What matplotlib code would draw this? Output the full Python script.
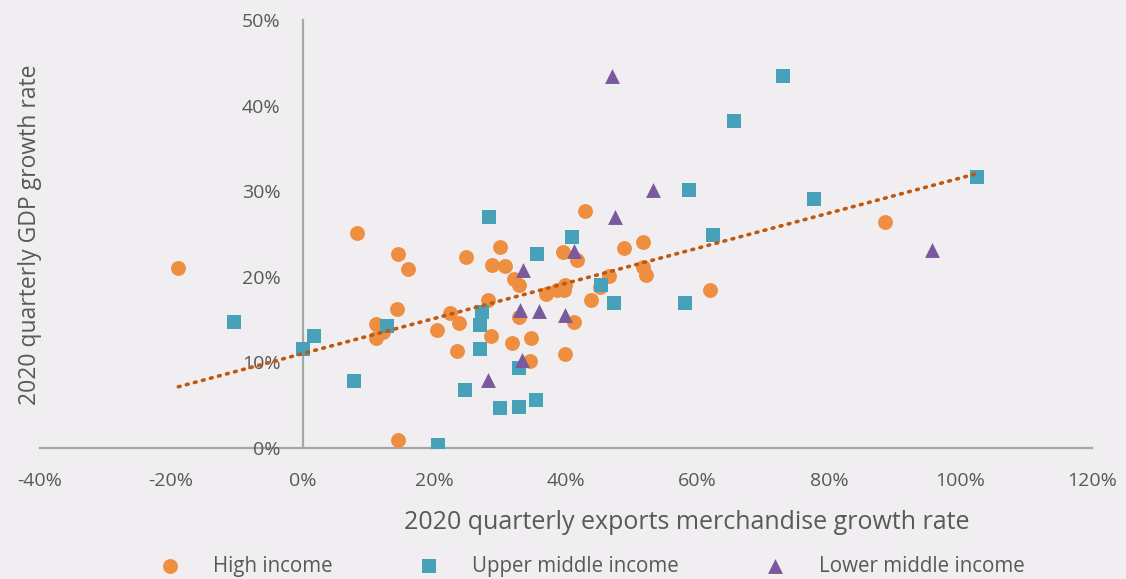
import numpy as np
import matplotlib
matplotlib.use("Agg")
import matplotlib.pyplot as plt
from matplotlib.ticker import FuncFormatter, MultipleLocator

# ── Data (percent) ───────────────────────────────────────────────────────────
high_x = [-18.9, 8.3, 14.5, 16.0, 14.4, 11.2, 12.2, 11.1, 14.5, 20.4, 22.4,
          24.9, 23.8, 23.5, 43.0, 30.0, 28.8, 30.8, 39.6, 41.7, 48.9, 51.8,
          51.7, 52.2, 46.5, 45.2, 32.1, 32.9, 37.0, 38.6, 39.9, 39.7, 28.2,
          43.8, 61.9, 32.9, 41.3, 28.6, 31.9, 34.7, 34.5, 39.9, 88.6]
high_y = [21.0, 25.1, 22.7, 20.9, 16.2, 14.5, 13.6, 12.9, 0.9, 13.8, 15.8,
          22.3, 14.6, 11.3, 27.7, 23.5, 21.4, 21.3, 22.9, 22.0, 23.4, 24.1,
          21.2, 20.2, 20.1, 18.8, 19.7, 19.0, 18.0, 18.5, 19.0, 18.5, 17.3,
          17.3, 18.5, 15.3, 14.7, 13.1, 12.3, 12.9, 10.2, 11.0, 26.4]

upper_x = [-10.5, 1.7, 0.0, 12.8, 7.8, 20.6, 28.4, 40.9, 35.6, 45.4, 47.3,
           58.1, 27.3, 26.9, 26.9, 32.9, 24.7, 30.0, 32.9, 35.4, 58.8, 62.4,
           73.0, 65.6, 77.7, 102.5]
upper_y = [14.7, 13.1, 11.6, 14.3, 7.8, 0.35, 27.0, 24.6, 22.7, 19.0, 16.9,
           16.9, 15.9, 14.4, 11.6, 9.3, 6.8, 4.7, 4.8, 5.6, 30.1, 24.9,
           43.4, 38.2, 29.1, 31.6]

lower_x = [53.3, 47.5, 41.3, 33.5, 33.1, 36.0, 39.9, 33.3, 28.2, 47.0, 95.7]
lower_y = [30.1, 27.0, 23.0, 20.8, 16.1, 16.0, 15.5, 10.3, 7.9, 43.4, 23.1]

labels = ["High income", "Upper middle income", "Lower middle income"]

# ── Style ────────────────────────────────────────────────────────────────────
BG = "#f0eef0"
TXT = "#595959"
AXC = "#a6a6a6"
C_HIGH = "#ee8e41"
C_UPPER = "#46a1b9"
C_LOWER = "#7a5a9c"
C_TREND = "#c0590f"

plt.rcParams["font.family"] = ["Open Sans", "DejaVu Sans"]

fig = plt.figure(figsize=(11.26, 5.79), dpi=100, facecolor=BG)
ax = fig.add_axes([0.0351, 0.2263, 0.9347, 0.7392])
ax.set_facecolor(BG)

ms = 115
ax.scatter(high_x, high_y, s=ms, marker="o", color=C_HIGH, lw=0, label=labels[0], zorder=3)
ax.scatter(upper_x, upper_y, s=ms, marker="s", color=C_UPPER, lw=0, label=labels[1], zorder=3)
ax.scatter(lower_x, lower_y, s=ms, marker="^", color=C_LOWER, lw=0, label=labels[2], zorder=3)

# linear trend over all points
all_x = np.array(high_x + upper_x + lower_x)
all_y = np.array(high_y + upper_y + lower_y)
k, b = np.polyfit(all_x, all_y, 1)
tx = np.array([all_x.min(), all_x.max()])
ax.plot(tx, k * tx + b, color=C_TREND, lw=2.6, ls=(0, (0.5, 1.8)),
        dash_capstyle="round", zorder=4)

ax.set_xlim(-40, 120)
ax.set_ylim(0, 50)
ax.xaxis.set_major_locator(MultipleLocator(20))
ax.yaxis.set_major_locator(MultipleLocator(10))
pct = FuncFormatter(lambda v, p: f"{v:.0f}%")
ax.xaxis.set_major_formatter(pct)
ax.yaxis.set_major_formatter(pct)

for s in ["top", "right"]:
    ax.spines[s].set_visible(False)
ax.spines["left"].set_position(("data", 0))
ax.spines["bottom"].set_position(("data", 0))
for s in ["left", "bottom"]:
    ax.spines[s].set_color(AXC)
    ax.spines[s].set_linewidth(1.6)
    ax.spines[s].set_zorder(1)

ax.tick_params(axis="both", length=0, colors=TXT, labelsize=14)
ax.tick_params(axis="x", pad=17)
ax.tick_params(axis="y", pad=16)

fig.text(0.61, 0.097, "2020 quarterly exports merchandise growth rate",
         ha="center", va="center", fontsize=18, color=TXT)
fig.text(0.027, 0.595, "2020 quarterly GDP growth rate", ha="center",
         va="center", rotation=90, fontsize=16.5, color=TXT)

leg = fig.legend(loc="center", bbox_to_anchor=(0.521, 0.022), ncol=3,
                 frameon=False, fontsize=14.8, labelcolor=TXT,
                 handletextpad=1.1, columnspacing=3.7, scatterpoints=1)

fig.savefig("out.png", dpi=100, facecolor=BG)
